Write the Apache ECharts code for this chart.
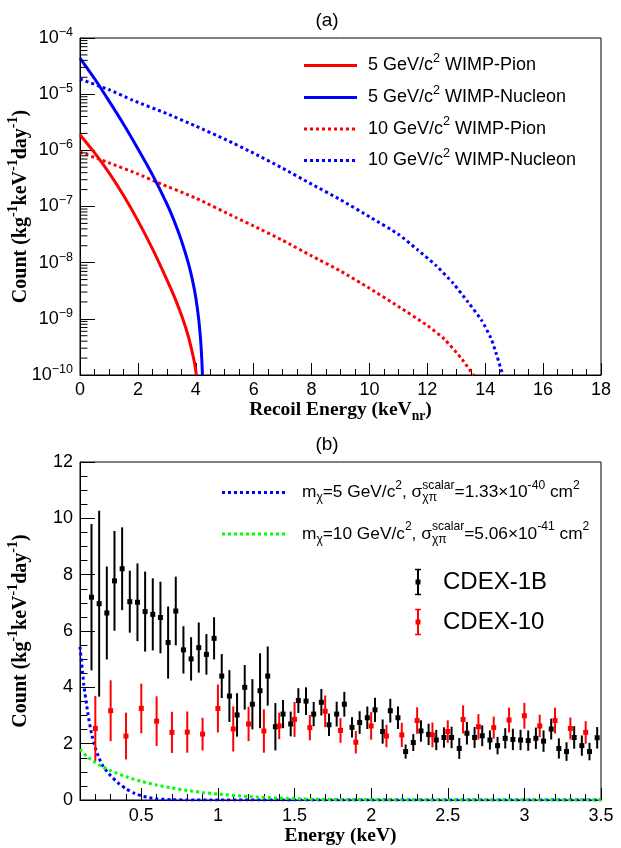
<!DOCTYPE html>
<html><head><meta charset="utf-8">
<script src="https://cdn.jsdelivr.net/npm/echarts@6/dist/echarts.min.js"></script>
<style>html,body{margin:0;padding:0;background:#fff}#c{width:621px;height:848px}</style>
</head><body><div id="c"></div>
<script>
// ---------- Panel (a): recoil spectra (log scale) ----------
const pion5X = [0, 0.5, 1, 1.5, 2, 2.5, 3, 3.3, 3.55, 3.75, 3.88, 3.96, 4.02];
const pion5Y = [1.9e-6, 9.1e-7, 4.0e-7, 1.58e-7, 5.6e-8, 1.78e-8, 5.0e-9, 2.2e-9, 1.0e-9, 4.7e-10, 2.5e-10, 1.6e-10, 1.0e-10];

const nucleon5X = [0, 0.5, 1, 1.5, 2, 2.5, 3, 3.25, 3.5, 3.75, 3.9, 4.0, 4.1, 4.17, 4.21, 4.23];
const nucleon5Y = [4.4e-5, 1.9e-5, 7.6e-6, 2.95e-6, 1.07e-6, 3.7e-7, 1.12e-7, 5.6e-8, 2.5e-8, 9.5e-9, 4.5e-9, 2.4e-9, 1.0e-9, 4.0e-10, 1.8e-10, 1.0e-10];

const pion10X = [0, 1, 2, 2.66, 4, 5.4, 6, 7, 8, 9, 10, 11, 12, 12.6, 13.2, 13.45, 13.6];
const pion10Y = [9.3e-7, 6.0e-7, 3.8e-7, 2.7e-7, 1.41e-7, 6.3e-8, 4.5e-8, 2.5e-8, 1.32e-8, 7.1e-9, 3.5e-9, 1.66e-9, 7.6e-10, 4.3e-10, 1.9e-10, 1.26e-10, 1.0e-10];

const nucleon10X = [0, 1, 1.82, 3, 4, 5, 6, 7, 8, 9, 10.06, 11, 11.66, 12.3, 12.89, 13.4, 13.87, 14.2, 14.37, 14.52, 14.61];
const nucleon10Y = [1.86e-5, 1.2e-5, 7.8e-6, 4.5e-6, 2.7e-6, 1.58e-6, 8.9e-7, 4.8e-7, 2.5e-7, 1.32e-7, 6.3e-8, 3.2e-8, 1.7e-8, 8.9e-9, 4.3e-9, 2.0e-9, 9.5e-10, 4.5e-10, 2.5e-10, 1.4e-10, 1.0e-10];

const legendA = ['5 GeV/c|2| WIMP-Pion', '5 GeV/c|2| WIMP-Nucleon', '10 GeV/c|2| WIMP-Pion', '10 GeV/c|2| WIMP-Nucleon'];

// ---------- Panel (b): measured spectra ----------
const cdex1bE = [0.175,0.225,0.275,0.325,0.375,0.425,0.475,0.525,0.575,0.625,0.675,0.725,0.775,0.825,0.875,0.925,0.975,
  1.025,1.075,1.125,1.175,1.225,1.275,1.325,1.375,1.425,1.475,1.525,1.575,1.625,1.675,1.725,1.775,1.825,1.875,1.925,1.975,
  2.025,2.075,2.125,2.175,2.225,2.275,2.325,2.375,2.425,2.475,2.525,2.575,2.625,2.675,2.725,2.775,2.825,2.875,2.925,2.975,
  3.025,3.075,3.125,3.175,3.225,3.275,3.325,3.375,3.425,3.475];
const cdex1bY = [7.2,6.97,6.64,7.78,8.21,7.04,7.02,6.69,6.59,6.48,5.59,6.71,5.33,5.01,5.41,5.17,5.74,
  4.40,3.69,3.02,4.00,3.40,3.88,4.40,2.60,3.05,2.70,3.53,3.51,3.05,3.47,2.67,3.05,3.40,2.58,2.75,2.92,
  3.20,2.43,3.17,2.92,1.72,2.04,2.45,2.33,2.13,2.22,2.22,1.83,2.37,2.22,2.28,2.13,1.93,2.19,2.15,2.13,
  2.11,2.19,2.09,2.52,1.83,1.72,2.22,1.93,1.72,2.21];
const cdex1bErr = [2.6,3.3,1.65,1.77,1.47,1.1,1.38,1.42,1.28,1.27,1.28,1.22,0.84,0.77,0.89,0.72,0.75,
  0.78,0.92,0.77,0.79,0.89,1.33,1.05,0.84,0.5,0.44,0.44,0.49,0.43,0.47,0.40,0.44,0.44,0.36,0.40,0.40,
  0.43,0.43,0.42,0.40,0.25,0.30,0.38,0.38,0.36,0.36,0.38,0.37,0.40,0.37,0.37,0.34,0.31,0.36,0.38,0.36,
  0.36,0.38,0.38,0.37,0.36,0.33,0.40,0.36,0.31,0.38];

const cdex10E = [0.2,0.3,0.4,0.5,0.6,0.7,0.8,0.9,1.0,1.1,1.2,1.3,1.4,1.5,1.6,1.7,1.8,1.9,2.0,2.1,2.2,2.3,2.4,2.5,2.6,2.7,2.8,2.9,3.0,3.1,3.2,3.3,3.4];
const cdex10Y = [2.54,3.17,2.27,3.25,2.80,2.40,2.41,2.34,3.25,2.52,2.70,2.45,2.63,2.86,2.57,3.15,2.47,2.05,2.63,2.27,2.31,2.82,2.31,2.43,2.86,2.60,2.57,2.84,2.99,2.63,2.82,2.54,2.40];
const cdex10Err = [1.15,1.08,0.83,0.88,0.88,0.73,0.73,0.58,0.85,0.80,0.61,0.77,0.47,0.62,0.45,0.56,0.44,0.40,0.49,0.40,0.43,0.47,0.44,0.40,0.50,0.45,0.39,0.44,0.46,0.40,0.46,0.39,0.40];

const sig5E = [0.1,0.125,0.15,0.175,0.2,0.225,0.25,0.3,0.35,0.4,0.45,0.5,0.55,0.6,0.7,0.8,1.0,1.5,2.0,2.5,3.0,3.5];
const sig5Y = [5.44,4.1,3.12,2.36,1.85,1.48,1.2,0.86,0.6,0.4,0.25,0.15,0.08,0.04,0.01,0.003,0,0,0,0,0,0];
const sig10E = [0.1,0.15,0.2,0.25,0.3,0.4,0.5,0.6,0.7,0.8,0.9,1.0,1.2,1.4,1.6,1.8,2.0,2.5,3.0,3.5];
const sig10Y = [1.8,1.52,1.33,1.17,1.04,0.83,0.66,0.53,0.43,0.34,0.27,0.21,0.12,0.065,0.03,0.012,0.005,0,0,0];

// ---------- helpers ----------
const SANS = '"Liberation Sans", Arial, Helvetica, sans-serif';
const SERIF = '"Liberation Serif", "Times New Roman", serif';
const RED = '#ff0000', BLUE = '#0000ff', GREEN = '#00ff00', BLACK = '#000000';

const mctx = document.createElement('canvas').getContext('2d');
function measure(t, size, fam, weight) { mctx.font = (weight || 'normal') + ' ' + size + 'px ' + fam; return mctx.measureText(t).width; }
const SUP = { k: 0.7, dy: -0.4 }, SUB = { k: 0.7, dy: 0.32 };
function richGroup(parts, base, fam, weight, color, x, y, align, rotation) {
  let cx = 0; const els = [];
  const mk = (t, px, py, size) => ({ type: 'text', x: px, y: py, silent: true,
    style: { text: t, fontSize: size, fontFamily: fam, fontWeight: weight || 'normal', fill: color, align: 'left', verticalAlign: 'middle' } });
  for (const p of parts) {
    const size = base * (p.k || 1);
    if (p.stack) {
      let w = 0;
      for (const s of p.stack) { els.push(mk(s.t, cx, s.dy * base, size)); w = Math.max(w, measure(s.t, size, fam, weight)); }
      cx += w;
    } else {
      els.push(mk(p.t, cx, (p.dy || 0) * base, size));
      cx += measure(p.t, size, fam, weight);
    }
  }
  const off = align === 'center' ? -cx / 2 : (align === 'right' ? -cx : 0);
  els.forEach(e => { e.x += off; });
  return { type: 'group', x: x, y: y, rotation: rotation || 0, children: els };
}
function supParts(str) { // "a|2|b" -> base, sup, base
  return str.split('|').map((t, i) => i % 2 ? Object.assign({ t: t }, SUP) : { t: t });
}

// ---------- layout ----------
const gA = { left: 80, top: 38, width: 521, height: 337 };
const gB = { left: 80, top: 462, width: 521, height: 338 };

const chart = echarts.init(document.getElementById('c'), null, { renderer: 'canvas' });

const axisLabelStyle = { color: BLACK, fontFamily: SANS, fontSize: 18 };

function curve(name, X, Y, color, dotted, xi, yi, w) {
  return { type: 'line', name: name, xAxisIndex: xi, yAxisIndex: yi, showSymbol: false, symbol: 'none', smooth: 0.2,
    data: X.map((x, i) => [x, Y[i]]), clip: true,
    lineStyle: { color: color, width: w || 3, type: dotted ? [3, 3] : 'solid' }, z: 3 };
}
function errSeries(name, E, Y, ERR, color) {
  return { type: 'custom', name: name, xAxisIndex: 1, yAxisIndex: 1, clip: true, z: 4,
    data: E.map((e, i) => [e, Y[i], ERR[i]]),
    renderItem: function (params, api) {
      const x = api.value(0), y = api.value(1), er = api.value(2);
      const c = api.coord([x, y]), t = api.coord([x, y + er]), b = api.coord([x, y - er]);
      return { type: 'group', children: [
        { type: 'line', shape: { x1: c[0], y1: t[1], x2: c[0], y2: b[1] }, style: { stroke: color, lineWidth: 2 } },
        { type: 'rect', shape: { x: c[0] - 2.5, y: c[1] - 2.5, width: 5, height: 5 }, style: { fill: color } }
      ] };
    } };
}
// minor tick positions of the log axis (2..9 x 10^n), axis decoration only
const logMinorTicks = [];
for (let d = -10; d < -4; d++) for (let k = 2; k <= 9; k++) logMinorTicks.push(k * Math.pow(10, d));

const option = {
  animation: false,
  backgroundColor: '#fff',
  grid: [
    Object.assign({ show: true, borderColor: BLACK, borderWidth: 1, containLabel: false }, gA),
    Object.assign({ show: true, borderColor: BLACK, borderWidth: 1, containLabel: false }, gB)
  ],
  xAxis: [
    { type: 'value', gridIndex: 0, min: 0, max: 18, interval: 2, position: 'bottom',
      axisLine: { show: true, lineStyle: { color: BLACK, width: 1 } },
      axisTick: { show: true, inside: true, length: 12, lineStyle: { color: BLACK } },
      minorTick: { show: true, splitNumber: 4, length: 6, lineStyle: { color: BLACK } },
      splitLine: { show: false },
      axisLabel: Object.assign({ margin: 6 }, axisLabelStyle) },
    { type: 'value', gridIndex: 1, min: 0.1, max: 3.5, splitNumber: 7, position: 'bottom',
      axisLine: { show: true, lineStyle: { color: BLACK, width: 1 } },
      axisTick: { show: true, inside: true, length: 12, lineStyle: { color: BLACK } },
      splitLine: { show: false },
      axisLabel: Object.assign({ margin: 7, formatter: v => (Math.abs(v * 2 - Math.round(v * 2)) < 1e-6 ? String(+v.toFixed(1)) : '') }, axisLabelStyle) },
    { type: 'value', gridIndex: 1, min: 0.1, max: 3.5, interval: 0.1, position: 'bottom',
      axisLine: { show: false }, axisLabel: { show: false }, splitLine: { show: false },
      axisTick: { show: true, inside: true, length: 6, lineStyle: { color: BLACK } } }
  ],
  yAxis: [
    { type: 'log', gridIndex: 0, logBase: 10, min: 1e-10, max: 1e-4, splitNumber: 6,
      axisLine: { show: true, lineStyle: { color: BLACK, width: 1 } },
      axisTick: { show: true, inside: true, length: 15, lineStyle: { color: BLACK } },
      splitLine: { show: false },
      axisLabel: { margin: 7, color: BLACK,
        formatter: v => { const e = Math.round(Math.log10(v)); return '{b|10}{s|' + (e < 0 ? '\u2212' : '') + Math.abs(e) + '}'; },
        rich: { b: { fontSize: 18, fontFamily: SANS, color: BLACK }, s: { fontSize: 12.5, fontFamily: SANS, color: BLACK, padding: [0, 0, 11, 0] } } } },
    { type: 'value', gridIndex: 1, min: 0, max: 12, interval: 2,
      axisLine: { show: true, lineStyle: { color: BLACK, width: 1 } },
      axisTick: { show: true, inside: true, length: 15, lineStyle: { color: BLACK } },
      minorTick: { show: true, splitNumber: 4, length: 7.5, lineStyle: { color: BLACK } },
      splitLine: { show: false },
      axisLabel: Object.assign({ margin: 7 }, axisLabelStyle) }
  ],
  series: [
    { type: 'custom', xAxisIndex: 0, yAxisIndex: 0, silent: true, z: 5,
      data: logMinorTicks.map(v => [0, v]),
      renderItem: function (params, api) {
        const c = api.coord([0, api.value(1)]);
        return { type: 'line', shape: { x1: c[0], y1: c[1], x2: c[0] + 7.5, y2: c[1] }, style: { stroke: BLACK, lineWidth: 1 } };
      } },
    curve('10 GeV WIMP-Pion', pion10X, pion10Y, RED, true, 0, 0),
    curve('10 GeV WIMP-Nucleon', nucleon10X, nucleon10Y, BLUE, true, 0, 0),
    curve('5 GeV WIMP-Pion', pion5X, pion5Y, RED, false, 0, 0),
    curve('5 GeV WIMP-Nucleon', nucleon5X, nucleon5Y, BLUE, false, 0, 0),
    errSeries('CDEX-1B', cdex1bE, cdex1bY, cdex1bErr, BLACK),
    errSeries('CDEX-10', cdex10E, cdex10Y, cdex10Err, RED),
    curve('mchi=5', sig5E, sig5Y, BLUE, true, 1, 1),
    curve('mchi=10', sig10E, sig10Y, GREEN, true, 1, 1)
  ],
  graphic: []
};

const G = [];
// titles
G.push(richGroup([{ t: '(a)' }], 19, SANS, 'normal', BLACK, 327, 21, 'center'));
G.push(richGroup([{ t: '(b)' }], 19, SANS, 'normal', BLACK, 327, 445, 'center'));
// axis titles
const countTitle = [{ t: 'Count (kg' }, Object.assign({ t: '-1' }, SUP), { t: 'keV' }, Object.assign({ t: '-1' }, SUP), { t: 'day' }, Object.assign({ t: '-1' }, SUP), { t: ')' }];
G.push(richGroup(countTitle, 20, SERIF, 'bold', BLACK, 21, gA.top + gA.height / 2, 'center', Math.PI / 2));
G.push(richGroup(countTitle, 20, SERIF, 'bold', BLACK, 21, gB.top + gB.height / 2, 'center', Math.PI / 2));
G.push(richGroup([{ t: 'Recoil Energy (keV' }, Object.assign({ t: 'nr' }, SUB), { t: ')' }], 19.5, SERIF, 'bold', BLACK, gA.left + gA.width / 2, 410, 'center'));
G.push(richGroup([{ t: 'Energy (keV)' }], 19.5, SERIF, 'bold', BLACK, gB.left + gB.width / 2, 836, 'center'));

// legend (a)
const legAcolors = [RED, BLUE, RED, BLUE], legAdotted = [false, false, true, true], legAy = [65.5, 97.5, 129, 160.5];
legendA.forEach((s, i) => {
  G.push({ type: 'line', silent: true, shape: { x1: 304, y1: legAy[i], x2: 357, y2: legAy[i] },
    style: { stroke: legAcolors[i], lineWidth: 3, lineDash: legAdotted[i] ? [3, 3] : null } });
  G.push(richGroup(supParts(s), 18, SANS, 'normal', BLACK, 368, legAy[i], 'left'));
});

// legend (b)
const legB1 = [{ t: 'm' }, Object.assign({ t: 'χ' }, SUB), { t: '=5 GeV/c' }, Object.assign({ t: '2' }, SUP), { t: ', σ' },
  { stack: [{ t: 'scalar', dy: -0.4 }, { t: 'χπ', dy: 0.32 }], k: 0.7 }, { t: '=1.33×10' }, Object.assign({ t: '-40' }, SUP), { t: ' cm' }, Object.assign({ t: '2' }, SUP)];
const legB2 = [{ t: 'm' }, Object.assign({ t: 'χ' }, SUB), { t: '=10 GeV/c' }, Object.assign({ t: '2' }, SUP), { t: ', σ' },
  { stack: [{ t: 'scalar', dy: -0.4 }, { t: 'χπ', dy: 0.32 }], k: 0.7 }, { t: '=5.06×10' }, Object.assign({ t: '-41' }, SUP), { t: ' cm' }, Object.assign({ t: '2' }, SUP)];
G.push({ type: 'line', silent: true, shape: { x1: 222, y1: 492.5, x2: 288, y2: 492.5 }, style: { stroke: BLUE, lineWidth: 3, lineDash: [3, 3] } });
G.push(richGroup(legB1, 17.3, SANS, 'normal', BLACK, 302, 492.5, 'left'));
G.push({ type: 'line', silent: true, shape: { x1: 222, y1: 534, x2: 288, y2: 534 }, style: { stroke: GREEN, lineWidth: 3, lineDash: [3, 3] } });
G.push(richGroup(legB2, 17.3, SANS, 'normal', BLACK, 302, 534, 'left'));
[[BLACK, 582, 'CDEX-1B'], [RED, 622, 'CDEX-10']].forEach(([c, y, t]) => {
  G.push({ type: 'group', silent: true, children: [
    { type: 'line', shape: { x1: 418, y1: y - 12.5, x2: 418, y2: y + 12.5 }, style: { stroke: c, lineWidth: 2 } },
    { type: 'line', shape: { x1: 415, y1: y - 12.5, x2: 421, y2: y - 12.5 }, style: { stroke: c, lineWidth: 1.5 } },
    { type: 'line', shape: { x1: 415, y1: y + 12.5, x2: 421, y2: y + 12.5 }, style: { stroke: c, lineWidth: 1.5 } },
    { type: 'rect', shape: { x: 415.5, y: y - 2.5, width: 5, height: 5 }, style: { fill: c } }
  ] });
  G.push(richGroup([{ t: t }], 24, SANS, 'normal', BLACK, 443, y, 'left'));
});
option.graphic = G;
chart.setOption(option);
</script></body></html>
